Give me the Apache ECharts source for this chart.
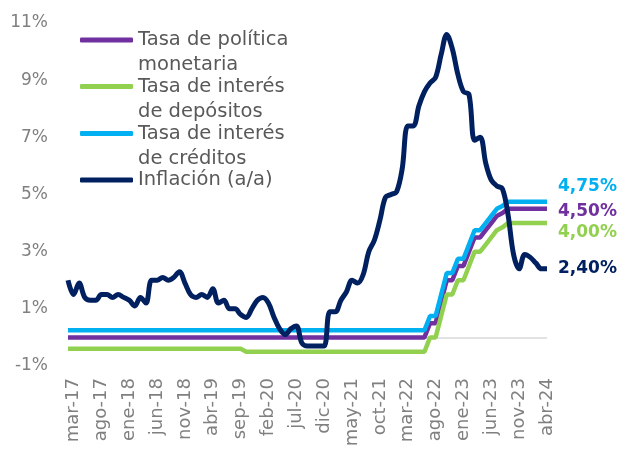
<!DOCTYPE html>
<html>
<head>
<meta charset="utf-8">
<script src="https://cdn.jsdelivr.net/npm/echarts@6/dist/echarts.min.js"></script>
<style>
  html, body { margin: 0; padding: 0; background: #fff; }
  #chart { width: 621px; height: 454px; }
</style>
</head>
<body>
<div id="chart"></div>
<script>
// meses feb-17 ... abr-24
var meses = ['ene','feb','mar','abr','may','jun','jul','ago','sep','oct','nov','dic'];
var categorias = [];
for (var a = 2017; a <= 2024; a++) {
  for (var m = 0; m < 12; m++) {
    if (a === 2017 && m < 1) continue;
    if (a === 2024 && m > 3) break;
    categorias.push(meses[m] + '-' + String(a).slice(2));
  }
}

// Inflación (a/a), %
var inflacion = [
  2.0, 1.5, 1.9, 1.4, 1.3, 1.3, 1.5, 1.5, 1.4, 1.5, 1.4,          // 2017 (feb-dic)
  1.3, 1.1, 1.4, 1.2, 2.0, 2.0, 2.1, 2.0, 2.1, 2.3, 1.9, 1.5,     // 2018
  1.4, 1.5, 1.4, 1.7, 1.2, 1.3, 1.0, 1.0, 0.8, 0.7, 1.0, 1.3,     // 2019
  1.4, 1.2, 0.7, 0.3, 0.1, 0.3, 0.4, -0.2, -0.3, -0.3, -0.3, -0.3,// 2020
  0.9, 0.9, 1.3, 1.6, 2.0, 1.9, 2.2, 3.0, 3.4, 4.1, 4.9, 5.0,     // 2021
  5.1, 5.9, 7.4, 7.4, 8.1, 8.6, 8.9, 9.1, 9.9, 10.6, 10.1, 9.2,   // 2022
  8.6, 8.5, 6.9, 7.0, 6.1, 5.5, 5.3, 5.2, 4.3, 2.9, 2.4, 2.9,     // 2023
  2.8, 2.6, 2.4, 2.4                                              // 2024
];

// Tasa de política monetaria, %
var politica = [
  0, 0, 0, 0, 0, 0, 0, 0, 0, 0, 0,
  0, 0, 0, 0, 0, 0, 0, 0, 0, 0, 0, 0,
  0, 0, 0, 0, 0, 0, 0, 0, 0, 0, 0, 0,
  0, 0, 0, 0, 0, 0, 0, 0, 0, 0, 0, 0,
  0, 0, 0, 0, 0, 0, 0, 0, 0, 0, 0, 0,
  0, 0, 0, 0, 0, 0, 0.5, 0.5, 1.25, 2.0, 2.0, 2.5,
  2.5, 3.0, 3.5, 3.5, 3.75, 4.0, 4.25, 4.35, 4.5, 4.5, 4.5, 4.5,
  4.5, 4.5, 4.5, 4.5
];

// Tasa de interés de depósitos, %
var depositos = [
  -0.4, -0.4, -0.4, -0.4, -0.4, -0.4, -0.4, -0.4, -0.4, -0.4, -0.4,
  -0.4, -0.4, -0.4, -0.4, -0.4, -0.4, -0.4, -0.4, -0.4, -0.4, -0.4, -0.4,
  -0.4, -0.4, -0.4, -0.4, -0.4, -0.4, -0.4, -0.4, -0.4, -0.5, -0.5, -0.5,
  -0.5, -0.5, -0.5, -0.5, -0.5, -0.5, -0.5, -0.5, -0.5, -0.5, -0.5, -0.5,
  -0.5, -0.5, -0.5, -0.5, -0.5, -0.5, -0.5, -0.5, -0.5, -0.5, -0.5, -0.5,
  -0.5, -0.5, -0.5, -0.5, -0.5, -0.5, 0, 0, 0.75, 1.5, 1.5, 2.0,
  2.0, 2.5, 3.0, 3.0, 3.25, 3.5, 3.75, 3.85, 4.0, 4.0, 4.0, 4.0,
  4.0, 4.0, 4.0, 4.0
];

// Tasa de interés de créditos, %
var creditos = [
  0.25, 0.25, 0.25, 0.25, 0.25, 0.25, 0.25, 0.25, 0.25, 0.25, 0.25,
  0.25, 0.25, 0.25, 0.25, 0.25, 0.25, 0.25, 0.25, 0.25, 0.25, 0.25, 0.25,
  0.25, 0.25, 0.25, 0.25, 0.25, 0.25, 0.25, 0.25, 0.25, 0.25, 0.25, 0.25,
  0.25, 0.25, 0.25, 0.25, 0.25, 0.25, 0.25, 0.25, 0.25, 0.25, 0.25, 0.25,
  0.25, 0.25, 0.25, 0.25, 0.25, 0.25, 0.25, 0.25, 0.25, 0.25, 0.25, 0.25,
  0.25, 0.25, 0.25, 0.25, 0.25, 0.25, 0.75, 0.75, 1.5, 2.25, 2.25, 2.75,
  2.75, 3.25, 3.75, 3.75, 4.0, 4.25, 4.5, 4.6, 4.75, 4.75, 4.75, 4.75,
  4.75, 4.75, 4.75, 4.75
];

var fuente = 'DejaVu Sans';
var chart = echarts.init(document.getElementById('chart'));

function etiqueta(p) {
  return p.value.toFixed(2).replace('.', ',') + '%';
}

// una leyenda por serie; las de dos líneas llevan una línea vacía arriba
// para que la primera línea quede a la altura del trazo
function leyenda(nombre, top, dosLineas) {
  return {
    data: [nombre],
    left: 80,
    top: top,
    orient: 'vertical',
    padding: 0,
    icon: 'roundRect',
    itemWidth: 53,
    itemHeight: 5,
    selectedMode: false,
    formatter: function (n) { return dosLineas ? ' \n' + n : n; },
    textStyle: { fontFamily: fuente, fontSize: 19.5, lineHeight: 25, color: '#595959' }
  };
}

var nPolitica = 'Tasa de política\nmonetaria';
var nDepositos = 'Tasa de interés\nde depósitos';
var nCreditos = 'Tasa de interés\nde créditos';
var nInflacion = 'Inflación (a/a)';

function serie(nombre, datos, color, dy, extra) {
  var s = {
    name: nombre,
    type: 'line',
    data: datos,
    showSymbol: false,
    lineStyle: { color: color, width: 4.5 },
    itemStyle: { color: color },
    emphasis: { disabled: true },
    endLabel: {
      show: true,
      formatter: etiqueta,
      color: color,
      fontFamily: fuente,
      fontWeight: 'bold',
      fontSize: 17,
      distance: 11,
      offset: [0, dy]
    }
  };
  for (var k in extra) s[k] = extra[k];
  return s;
}

var option = {
  animation: false,
  grid: { left: 68, right: 74, top: 23, bottom: 88, outerBoundsMode: 'none' },
  legend: [
    leyenda(nPolitica, 2.5, true),
    leyenda(nDepositos, 49, true),
    leyenda(nCreditos, 96, true),
    leyenda(nInflacion, 167.5, false)
  ],
  xAxis: {
    type: 'category',
    data: categorias,
    boundaryGap: false,
    axisLine: { show: false },
    axisTick: { show: false },
    splitLine: { show: false },
    axisLabel: {
      interval: function (i) { return i % 5 === 1; },
      rotate: 90,
      margin: 12,
      color: '#808080',
      fontFamily: fuente,
      fontSize: 18
    }
  },
  yAxis: {
    type: 'value',
    min: -1,
    max: 11,
    interval: 2,
    axisLine: { show: false },
    axisTick: { show: false },
    splitLine: { show: false },
    axisLabel: {
      formatter: '{value}%',
      margin: 20,
      color: '#808080',
      fontFamily: fuente,
      fontSize: 17
    }
  },
  series: [
    serie(nPolitica, politica, '#7030A0', 3, {
      markLine: {
        silent: true,
        z: 1,
        symbol: 'none',
        label: { show: false },
        lineStyle: { color: '#D9D9D9', width: 1.5, type: 'solid' },
        data: [{ yAxis: 0 }]
      }
    }),
    serie(nDepositos, depositos, '#92D050', 9),
    serie(nCreditos, creditos, '#00B0F0', -15),
    serie(nInflacion, inflacion, '#002060', 0, { smooth: 0.35, lineStyle: { color: '#002060', width: 5 } })
  ]
};

chart.setOption(option);
</script>
</body>
</html>
